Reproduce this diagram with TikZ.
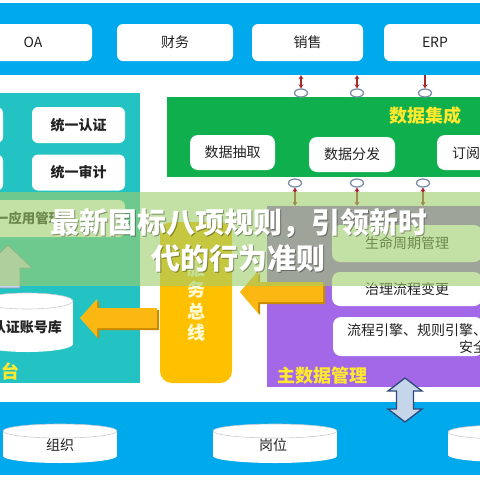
\documentclass[tikz,border=0pt]{standalone}
\usepackage{fontspec}
\setmainfont{Noto Sans CJK SC}
\usetikzlibrary{arrows.meta,shapes.geometric}
\definecolor{bandblue}{HTML}{00A9EC}
\definecolor{teal1}{HTML}{24C3C3}
\definecolor{green1}{HTML}{10AF4E}
\definecolor{bus}{HTML}{FFC000}
\definecolor{orng}{HTML}{FBB813}
\definecolor{orngdk}{HTML}{C98A00}
\definecolor{purp}{HTML}{A268E8}
\definecolor{ylw}{HTML}{FFE92E}
\definecolor{ringc}{HTML}{7B8FA8}
\definecolor{darkred}{HTML}{A02C2C}
\definecolor{ovl}{HTML}{9ECD69}
\definecolor{lblue}{HTML}{C5D5EA}
\definecolor{navy}{HTML}{2F4A7A}
\definecolor{cyle}{HTML}{C8CCD2}
\definecolor{txt}{HTML}{222222}
\newcommand\mycyl[5]{%
  \fill[white] (#1-#4,#2+#5) rectangle (#1+#4,#3-#5);
  \fill[white] (#1,#3-#5) ellipse [x radius=#4, y radius=#5];
  \filldraw[fill=white, draw=cyle, line width=0.6pt] (#1,#2+#5) ellipse [x radius=#4, y radius=#5];
}
\begin{document}
\begin{tikzpicture}[x=1pt,y=-1pt,
  wbox/.style={fill=white, rounded corners=6pt, inner sep=0pt, text=txt, font=\fontsize{14}{16}\selectfont},
  bwbox/.style={wbox, font=\fontsize{14}{16}\selectfont\bfseries},
  panel/.style={inner sep=0pt},
  ring/.style={ellipse, draw=ringc, fill=white, line width=1.3pt, minimum width=13pt, minimum height=8pt, inner sep=0pt},
  redarr/.style={draw=darkred, line width=1.3pt, {Stealth[length=4pt,width=5pt]}-{Stealth[length=4pt,width=5pt]}},
  redarrdown/.style={draw=darkred, line width=1.3pt, -{Stealth[length=4pt,width=5pt]}},
  lbl/.style={inner sep=0pt, text=txt, font=\fontsize{14}{16}\selectfont},
  ylbl/.style={inner sep=0pt, text=ylw, font=\fontsize{18}{20}\selectfont\bfseries}
]
\useasboundingbox (0,0) rectangle (480,480);
\clip (0,0) rectangle (480,480);
\fill[white] (0,0) rectangle (480,480);

% top band
\node[panel, fill=bandblue, minimum width=480pt, minimum height=72pt] (band1) at (240,39) {};
\node[wbox, minimum width=118pt, minimum height=37pt] (oa) at (33,42.5) {OA};
\node[wbox, minimum width=116pt, minimum height=37pt] (cw) at (175,42.5) {财务};
\node[wbox, minimum width=111pt, minimum height=37pt] (xs) at (307.5,42.5) {销售};
\node[wbox, minimum width=116pt, minimum height=37pt] (erp) at (442,42.5) {};
\node[lbl] at (435,42.5) {ERP};

% green data integration
\node[panel, fill=green1, minimum width=323pt, minimum height=80pt] (dj) at (328.5,137) {};
\node[ylbl] at (425,116) {数据集成};
\node[wbox, rounded corners=8pt, minimum width=85pt, minimum height=35pt] (cq) at (232.5,152.5) {数据抽取};
\node[wbox, rounded corners=8pt, minimum width=86pt, minimum height=35pt] (ff) at (352,154.5) {数据分发};
\node[wbox, rounded corners=8pt, minimum width=85pt, minimum height=35pt] (dy) at (479.5,152.5) {};
\node[lbl, anchor=west] at (452,153) {订阅};

% rings and arrows above
\node[ring] (ra) at (301,93) {};
\node[ring] (rb) at (357,93) {};
\node[ring] (rc) at (425,93) {};
\draw[redarr] (ra.north |- band1.south) -- (ra.north);
\draw[redarr] (rb.north |- band1.south) -- (rb.north);
\draw[redarrdown] (rc.north |- band1.south) -- (rc.north);

% teal panel
\node[panel, fill=teal1, minimum width=145pt, minimum height=290pt] (tp) at (67.5,238) {};
\node[wbox, minimum width=90pt, minimum height=36pt] (lp1) at (-42,125) {};
\node[wbox, minimum width=90pt, minimum height=36pt] (lp2) at (-42,172.5) {};
\node[bwbox, minimum width=93pt, minimum height=36pt] (rz) at (78.5,125) {统一认证};
\node[bwbox, minimum width=93pt, minimum height=36pt] (sj) at (78.5,172.5) {统一审计};
\node[wbox, minimum width=206pt, minimum height=37pt] (yy) at (22,218.5) {};
\node[lbl, font=\fontsize{13.5}{16}\selectfont\bfseries] at (22,218.5) {统一应用管理};
% up arrow
\filldraw[fill=lblue, draw=navy!60, line width=0.8pt] (-4,288) -- (-4,268) -- (-16,268) -- (8,245) -- (32,268) -- (20,268) -- (20,288) -- cycle;
% account cylinder
\mycyl{27}{293}{352}{46}{8}
\node[lbl, anchor=east, font=\fontsize{14}{16}\selectfont\bfseries] (zh) at (62,327) {认证账号库};
\node[ylbl, anchor=west] at (1,371) {台};

% purple panel
\node[panel, fill=purp, minimum width=223pt, minimum height=181pt] (pur) at (378.5,296.5) {};
\node[wbox, rounded corners=8pt, minimum width=150pt, minimum height=37pt] (sm) at (407,243.5) {生命周期管理};
\node[wbox, rounded corners=8pt, minimum width=150pt, minimum height=34pt] (zl) at (407,289) {治理流程变更};
\node[wbox, rounded corners=8pt, minimum width=150pt, minimum height=39pt] (lc) at (408,336.5) {};
\node[lbl, anchor=west] at (347,330) {流程引擎、规则引擎、权限};
\node[lbl, anchor=west] at (459,347) {安全};
\node[ylbl] at (322,376) {主数据管理};

% rings and arrows below green
\node[ring] (rd) at (295,183) {};
\node[ring] (re) at (357,183) {};
\node[ring] (rf) at (423,183) {};
\draw[redarr] (rd.south) -- (rd.south |- pur.north);
\draw[redarr] (re.south) -- (re.south |- pur.north);
\draw[redarr] (rf.south) -- (rf.south |- pur.north);

% service bus
\node[panel, fill=bus, rounded corners=12pt, minimum width=72pt, minimum height=161pt] (sb) at (196,302.5) {};
\node[inner sep=0pt, align=center, text=white!85!yellow, font=\fontsize{18}{21.5}\selectfont\bfseries] at (196,301) {服\\务\\总\\线};

% orange arrows
\fill[orngdk] (159,310) -- (99,310) -- (99,301) -- (82,320) -- (99,339) -- (99,330) -- (159,330) -- cycle;
\fill[orng] (157,308) -- (97,308) -- (97,299) -- (80,318) -- (97,337) -- (97,328) -- (157,328) -- cycle;
\fill[orngdk] (325,284) -- (260,284) -- (260,273) -- (242,294) -- (260,315) -- (260,304) -- (325,304) -- cycle;
\fill[orng] (323,282) -- (258,282) -- (258,271) -- (240,292) -- (258,313) -- (258,302) -- (323,302) -- cycle;

% bottom band
\node[panel, fill=bandblue, minimum width=480pt, minimum height=73pt] (band2) at (240,438.5) {};
\mycyl{60}{424}{463}{57}{7}
\node[lbl] (zz) at (60,445) {组织};
\mycyl{275}{424}{463}{62}{7}
\node[lbl] (gw) at (273,445) {岗位};
\mycyl{505}{425}{462}{57}{7}

% double arrow
\filldraw[fill=lblue, draw=navy, line width=1.3pt] (405,378) -- (422,391) -- (413.5,391) -- (413.5,409) -- (422,409) -- (405,422) -- (388,409) -- (396.5,409) -- (396.5,391) -- (388,391) -- cycle;

% overlay band and title
\fill[ovl, opacity=0.6] (0,192) rectangle (480,286);
\node[align=center, text=black, opacity=0.35, font=\fontsize{29}{36}\selectfont\bfseries] at (240,241.3) {最新国标八项规则，引领新时\\代的行为准则};
\node[align=center, text=white, font=\fontsize{29}{36}\selectfont\bfseries] (title) at (239,240) {最新国标八项规则，引领新时\\代的行为准则};
\end{tikzpicture}
\end{document}
